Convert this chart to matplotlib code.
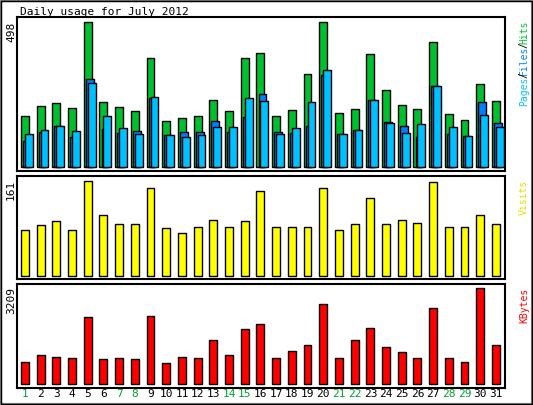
import matplotlib
matplotlib.use('Agg')
import matplotlib.pyplot as plt
import matplotlib.patches as patches

days = list(range(1, 32))
weekend = {1, 7, 8, 14, 15, 21, 22, 28, 29}
hits = [175, 209, 220, 203, 498, 223, 206, 192, 374, 158, 168, 175, 230, 192, 374, 392,
        175, 196, 319, 498, 185, 199, 388, 264, 213, 199, 429, 182, 161, 285, 227]
files = [89, 120, 141, 103, 302, 131, 117, 124, 237, 110, 120, 120, 158, 120, 172, 251,
         120, 117, 141, 316, 113, 127, 230, 155, 141, 103, 278, 113, 106, 223, 151]
pages = [113, 127, 141, 124, 288, 175, 134, 113, 240, 110, 103, 110, 137, 137, 237, 227,
         113, 134, 223, 333, 113, 127, 230, 151, 117, 148, 278, 137, 106, 179, 137]
visits = [77, 85, 92, 78, 161, 102, 87, 88, 148, 80, 72, 83, 95, 83, 93, 144,
          83, 82, 83, 149, 78, 88, 131, 88, 95, 90, 158, 83, 83, 102, 88]
kbytes = [743, 946, 912, 878, 2241, 811, 845, 811, 2275, 709, 912, 845, 1453, 946, 1824, 1993,
          845, 1081, 1284, 2669, 878, 1453, 1858, 1216, 1047, 878, 2534, 878, 743, 3209, 1284]

W, H = 533, 405
fig = plt.figure(figsize=(W / 100, H / 100), dpi=100)
fig.patch.set_facecolor('white')
mono = 'DejaVu Sans Mono'

# outer border
fig.add_artist(patches.Rectangle((0, 0), 1, 1, transform=fig.transFigure,
                                 fill=False, edgecolor='#808080', linewidth=3))
fig.add_artist(patches.Rectangle((1 / W, 1 / H), 1 - 2 / W, 1 - 2 / H, transform=fig.transFigure,
                                 fill=False, edgecolor='black', linewidth=1))


def panel(top, bottom, ylim):
    ax = fig.add_axes([17 / W, 1 - bottom / H, (505 - 17) / W, (bottom - top) / H])
    ax.set_xlim(1 - 4 / 15.7, 1 + (505 - 21) / 15.7)
    ax.set_ylim(*ylim)
    ax.set_xticks([])
    ax.set_yticks([])
    for s in ax.spines.values():
        s.set_linewidth(1.5)
    return ax


ek = dict(edgecolor='black', linewidth=1, align='edge', width=0.5)

ax1 = panel(17, 171, (-13.7, 515))
ax1.bar(days, hits, color='#00c030', **ek)
ax1.bar([d + 0.13 for d in days], files, color='#0080ff', **ek)
ax1.bar([d + 0.25 for d in days], pages, color='#00c0ff', **ek)

ax2 = panel(176, 279, (-5.6, 168.8))
ax2.bar(days, visits, color='#ffff00', **ek)

ax3 = panel(284, 388, (-149, 3354))
ax3.bar(days, kbytes, color='#ff0000', **ek)

fs = 8
fig.text(20 / W, 1 - 12 / H, 'Daily usage for July 2012', family=mono, fontsize=fs, va='center')
for y, txt in [(32, '498'), (190, '161'), (300, '3209')]:
    fig.text(11 / W, 1 - y / H, txt, family=mono, fontsize=fs, rotation=90, ha='center', va='center')

# right side labels, read bottom to top: Pages/Files/Hits
rk = dict(family=mono, fontsize=7, rotation=90, ha='center', va='center')
for y, txt, col in [(32, 'Hits', '#00c030'), (45, '/', 'black'), (60, 'Files', '#0080ff'),
                    (75, '/', 'black'), (91, 'Pages', '#00c0ff')]:
    fig.text(524 / W, 1 - y / H, txt, color=col, **rk)
fig.text(524 / W, 1 - 197 / H, 'Visits', color='#e0e000', **rk)
fig.text(524 / W, 1 - 305 / H, 'KBytes', color='#ff0000', **rk)

for d in days:
    x = 21 + (d - 1) * 15.7 + 4
    fig.text(x / W, 1 - 394 / H, str(d), family=mono, fontsize=fs, ha='center', va='center',
             color='#00a030' if d in weekend else 'black')

fig.savefig('out.png', dpi=100)
